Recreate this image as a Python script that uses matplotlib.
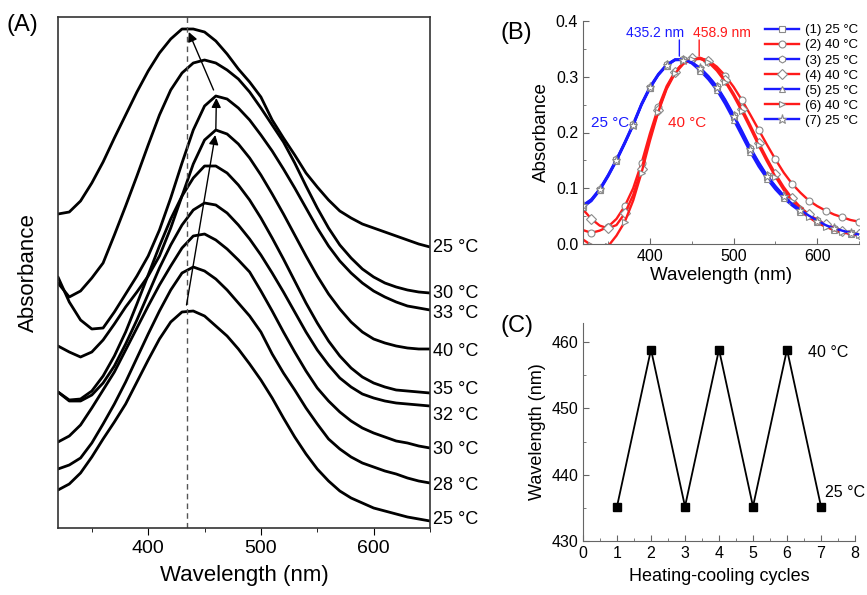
import matplotlib
matplotlib.use("Agg")
import matplotlib.pyplot as plt

plt.rcParams['font.family'] = ['Liberation Sans', 'DejaVu Sans']

# (A) temperature series, offset spectra (arbitrary units)
wl_A = list(range(320, 651, 10))
temps_A = ['25 °C', '30 °C', '33 °C', '40 °C', '35 °C', '32 °C', '30 °C', '28 °C', '25 °C']
spectra_A = [
    [314, 316, 327, 345, 366, 390, 413, 436, 457, 475, 489, 499, 499, 496, 487, 474, 459,
     446, 431, 408, 390, 373, 355, 341, 328, 317, 310, 304, 300, 296, 292, 288, 284, 281],
    [245, 231, 237, 250, 265, 293, 322, 352, 383, 413, 438, 455, 465, 468, 465, 458, 449,
     436, 420, 403, 386, 365, 342, 320, 300, 283, 270, 259, 251, 245, 241, 238, 236, 235],
    [251, 226, 208, 199, 200, 216, 234, 252, 272, 298, 330, 365, 398, 422, 432, 429, 420,
     408, 393, 377, 359, 340, 320, 300, 282, 267, 255, 245, 237, 231, 226, 222, 220, 218],
    [182, 176, 171, 176, 188, 204, 221, 236, 252, 272, 300, 332, 364, 388, 398, 394, 384,
     370, 353, 334, 314, 293, 272, 252, 234, 219, 206, 196, 189, 185, 182, 180, 179, 179],
    [136, 128, 129, 137, 152, 172, 196, 224, 253, 282, 309, 332, 350, 362, 362, 355, 343,
     328, 310, 290, 269, 247, 225, 205, 187, 172, 160, 151, 145, 141, 138, 137, 136, 135],
    [136, 127, 127, 133, 145, 162, 184, 208, 234, 260, 283, 303, 318, 325, 323, 315, 303,
     289, 273, 255, 236, 216, 196, 178, 163, 150, 141, 134, 130, 127, 125, 124, 123, 122],
    [86, 92, 103, 120, 138, 156, 178, 200, 222, 243, 262, 280, 292, 294, 288, 279, 268,
     256, 237, 217, 196, 176, 157, 140, 127, 116, 107, 100, 95, 91, 87, 85, 82, 80],
    [59, 63, 70, 85, 104, 124, 146, 170, 194, 217, 238, 255, 261, 257, 249, 238, 225,
     212, 196, 174, 155, 138, 120, 104, 89, 79, 71, 65, 61, 57, 54, 50, 47, 45],
    [38, 44, 55, 71, 89, 106, 124, 146, 168, 189, 206, 216, 217, 212, 202, 192, 179,
     164, 148, 130, 110, 91, 74, 59, 47, 37, 30, 25, 20, 17, 14, 11, 9, 7],
]
label_nudge = [0, 0, -3, -2, 4, -9, -1, -2, 1]

# (B) heating-cooling spectra
wl_B = list(range(320, 651, 10))
names_B = ['(1) 25 °C', '(2) 40 °C', '(3) 25 °C', '(4) 40 °C', '(5) 25 °C', '(6) 40 °C', '(7) 25 °C']
spectra_B = [
    [0.067, 0.078, 0.097, 0.122, 0.150, 0.181, 0.213, 0.250, 0.280, 0.303, 0.320, 0.330, 0.330,
     0.325, 0.313, 0.298, 0.280, 0.255, 0.228, 0.199, 0.169, 0.143, 0.120, 0.101, 0.084, 0.071,
     0.060, 0.050, 0.041, 0.033, 0.027, 0.023, 0.019, 0.016],
    [0.025, 0.020, 0.024, 0.031, 0.045, 0.068, 0.100, 0.145, 0.198, 0.245, 0.283, 0.309, 0.325,
     0.332, 0.333, 0.329, 0.318, 0.302, 0.282, 0.258, 0.232, 0.205, 0.178, 0.152, 0.128, 0.108,
     0.092, 0.078, 0.068, 0.060, 0.053, 0.048, 0.043, 0.040],
    [0.068, 0.080, 0.099, 0.124, 0.152, 0.183, 0.216, 0.252, 0.282, 0.305, 0.322, 0.331, 0.331,
     0.326, 0.316, 0.301, 0.283, 0.259, 0.232, 0.203, 0.173, 0.147, 0.123, 0.104, 0.087, 0.073,
     0.062, 0.052, 0.043, 0.035, 0.029, 0.024, 0.020, 0.017],
    [0.062, 0.045, 0.033, 0.028, 0.034, 0.055, 0.088, 0.135, 0.190, 0.240, 0.280, 0.308, 0.325,
     0.333, 0.334, 0.328, 0.314, 0.294, 0.270, 0.243, 0.213, 0.182, 0.153, 0.126, 0.102, 0.082,
     0.066, 0.053, 0.043, 0.035, 0.029, 0.024, 0.020, 0.018],
    [0.066, 0.077, 0.096, 0.121, 0.149, 0.180, 0.213, 0.249, 0.279, 0.303, 0.320, 0.330, 0.331,
     0.324, 0.311, 0.295, 0.276, 0.251, 0.223, 0.194, 0.165, 0.139, 0.117, 0.098, 0.082, 0.069,
     0.058, 0.049, 0.040, 0.032, 0.026, 0.022, 0.018, 0.015],
    [0.008, -0.002, -0.008, -0.004, 0.015, 0.040, 0.078, 0.128, 0.185, 0.237, 0.278, 0.306, 0.323,
     0.331, 0.332, 0.326, 0.311, 0.291, 0.266, 0.238, 0.208, 0.177, 0.148, 0.121, 0.097, 0.077,
     0.061, 0.048, 0.038, 0.031, 0.025, 0.021, 0.018, 0.016],
    [0.070, 0.080, 0.098, 0.123, 0.151, 0.182, 0.214, 0.251, 0.281, 0.304, 0.321, 0.331, 0.330,
     0.326, 0.315, 0.300, 0.282, 0.257, 0.230, 0.201, 0.171, 0.145, 0.122, 0.103, 0.086, 0.072,
     0.061, 0.051, 0.042, 0.034, 0.028, 0.024, 0.020, 0.017],
]
colors_B = ['#1a1aff', '#ff1a1a', '#1a1aff', '#ff1a1a', '#1a1aff', '#ff1a1a', '#1a1aff']
markers_B = ['s', 'o', 'h', 'D', '^', '>', '*']

# (C) peak position per cycle
cycles = [1, 2, 3, 4, 5, 6, 7]
peak_wl = [435.2, 458.9, 435.2, 458.9, 435.2, 458.9, 435.2]

fig = plt.figure(figsize=(8.67, 5.95), dpi=100)

# ---------- (A)
axA = fig.add_axes([58/867, 67/595, 372/867, 511/595])
for s in spectra_A:
    axA.plot(wl_A, s, color='black', lw=2.0, solid_joinstyle='round', solid_capstyle='round')
axA.set_xlim(320, 650)
axA.set_ylim(0, 511)
axA.axvline(434, color='#555555', lw=1.0, ls=(0, (4, 3)))
for s, t, dn in zip(spectra_A, temps_A, label_nudge):
    axA.text(653, s[-1] + dn, t, fontsize=13, va='center', ha='left', clip_on=False)
arr = dict(arrowstyle='-|>', color='black', lw=1.0, mutation_scale=14, shrinkA=0, shrinkB=0)
axA.annotate('', xy=(459.5, 393), xytext=(434, 223), arrowprops=arr)
axA.annotate('', xy=(460.5, 430), xytext=(460, 398), arrowprops=arr)
axA.annotate('', xy=(436, 496), xytext=(458, 438), arrowprops=arr)
axA.set_yticks([])
axA.set_xticks([400, 500, 600])
axA.set_xticks([350, 450, 550, 650], minor=True)
axA.tick_params(axis='x', which='major', direction='out', length=5, labelsize=14)
axA.tick_params(axis='x', which='minor', direction='out', length=3)
for sp in axA.spines.values():
    sp.set_color('#333333')
    sp.set_linewidth(1.2)
axA.set_xlabel('Wavelength (nm)', fontsize=16, labelpad=6)
axA.set_ylabel('Absorbance', fontsize=16, labelpad=14)
fig.text(0.008, 1 - 25/595, '(A)', fontsize=17, va='center')

# ---------- (B)
axB = fig.add_axes([583/867, 351/595, 276/867, 223/595])
for i, s in enumerate(spectra_B):
    axB.plot(wl_B, s, color=colors_B[i], lw=1.7, marker=markers_B[i],
             ms=5 if markers_B[i] != '*' else 6.5,
             mfc='white', mec='#8a8a8a', mew=0.8, markevery=(i % 2, 2), label=names_B[i])
axB.set_xlim(320, 650)
axB.set_ylim(0, 0.4)
axB.set_xticks([400, 500, 600])
axB.set_xticks([350, 450, 550, 650], minor=True)
axB.set_yticks([0.0, 0.1, 0.2, 0.3, 0.4])
axB.set_yticks([0.05, 0.15, 0.25, 0.35], minor=True)
axB.tick_params(which='major', direction='in', length=4, labelsize=11.5, color='#666666')
axB.tick_params(which='minor', direction='in', length=2, color='#666666')
axB.spines['top'].set_visible(False)
axB.spines['right'].set_visible(False)
axB.spines['left'].set_color('#666666')
axB.spines['bottom'].set_color('#666666')
axB.text(406, 0.378, '435.2 nm', color='#1a1aff', fontsize=10, ha='center', va='center')
axB.annotate('', xy=(435.2, 0.337), xytext=(435.2, 0.366),
             arrowprops=dict(arrowstyle='-', color='#1a1aff', lw=1, shrinkA=0, shrinkB=0))
axB.text(486, 0.378, '458.9 nm', color='#ff1a1a', fontsize=10, ha='center', va='center')
axB.annotate('', xy=(458.9, 0.337), xytext=(458.9, 0.366),
             arrowprops=dict(arrowstyle='-', color='#ff1a1a', lw=1, shrinkA=0, shrinkB=0))
axB.text(352, 0.217, '25 °C', color='#1a1aff', fontsize=11, ha='center', va='center')
axB.text(444, 0.217, '40 °C', color='#ff1a1a', fontsize=11, ha='center', va='center')
axB.legend(loc='upper left', bbox_to_anchor=(0.64, 1.01), frameon=False, fontsize=9.5,
           handlelength=2.6, labelspacing=0.22, handletextpad=0.4, borderaxespad=0)
axB.set_xlabel('Wavelength (nm)', fontsize=13.5, labelpad=2)
axB.set_ylabel('Absorbance', fontsize=13.5, labelpad=4)
fig.text(500/867, 1 - 33/595, '(B)', fontsize=17, va='center')

# ---------- (C)
axC = fig.add_axes([583/867, 54/595, 272/867, 218/595])
axC.plot(cycles, peak_wl, color='black', lw=1.3, marker='s', ms=5.5, mfc='black', mec='black')
axC.set_xlim(0, 8)
axC.set_ylim(430, 462.9)
axC.set_xticks(range(0, 9))
axC.set_xticks([x + 0.5 for x in range(0, 8)], minor=True)
axC.set_yticks([430, 440, 450, 460])
axC.set_yticks([435, 445, 455], minor=True)
axC.tick_params(which='major', direction='in', length=4, labelsize=11.5, color='#666666')
axC.tick_params(which='minor', direction='in', length=2, color='#666666')
axC.spines['top'].set_visible(False)
axC.spines['right'].set_visible(False)
axC.spines['left'].set_color('#666666')
axC.spines['bottom'].set_color('#666666')
axC.text(6.62, 458.4, '40 °C', fontsize=11.5, va='center')
axC.text(7.12, 437.3, '25 °C', fontsize=11.5, va='center')
axC.set_xlabel('Heating-cooling cycles', fontsize=13, labelpad=5)
axC.set_ylabel('Wavelength (nm)', fontsize=13, labelpad=4)
fig.text(500/867, 1 - 326/595, '(C)', fontsize=17, va='center')

fig.savefig('out.png', dpi=100)
